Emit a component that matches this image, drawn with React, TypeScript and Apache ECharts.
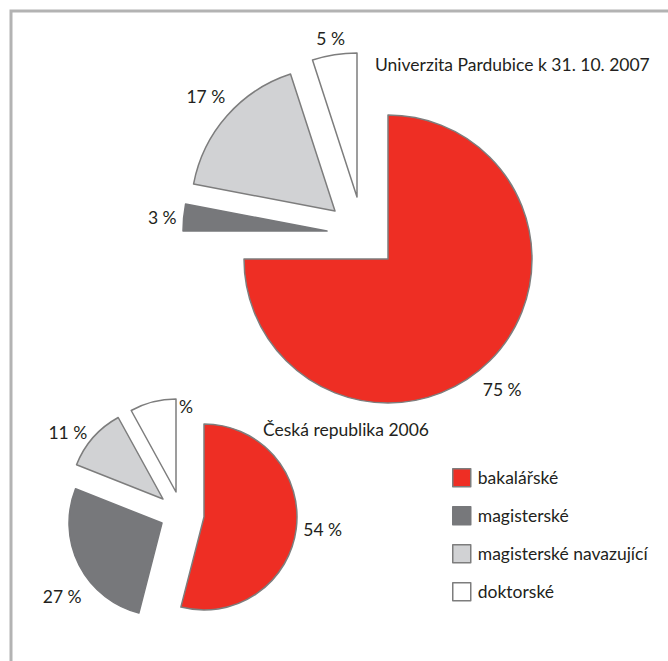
import React, { useEffect, useRef } from 'react';
import * as echarts from 'echarts';

// ---- data ----
const categories = ['bakalářské', 'magisterské', 'magisterské navazující', 'doktorské'];
const universityValues = [75, 3, 17, 5];
const universityLabels = ['75 %', '3 %', '17 %', '5 %'];
const czechValues = [54, 27, 11, 8];
const czechLabels = ['54 %', '27 %', '11 %', '%'];
const universityTitle = 'Univerzita Pardubice k 31. 10. 2007';
const czechTitle = 'Česká republika 2006';

// ---- styles / layout ----
const fillColors = ['#ee2e24', '#77787b', '#d1d2d4', '#ffffff'];
const borderColors = ['#7d7d7d', '#77787b', '#7d7d7d', '#7d7d7d'];
const textColor = '#231f20';
const fontFamily = 'Lato, "Open Sans", sans-serif';
const fontSize = 17.5;

type PieCfg = {
  r: number;
  centers: number[][];
  labelLen: number[];
  labelLen2: number[];
};

const topPie: PieCfg = {
  r: 144,
  centers: [[388, 259], [327, 231], [335, 211], [357, 197]],
  labelLen: [41, 0, 29, 16],
  labelLen2: [-41, 2, -25, -18],
};

const bottomPie: PieCfg = {
  r: 93,
  centers: [[204, 517], [162, 523], [163, 499], [176, 492]],
  labelLen: [3, 69, 8, -5],
  labelLen2: [-1, -69, -5, -44],
};

function sliceSeries(values: number[], labels: string[], cfg: PieCfg, k: number, id: string) {
  return {
    type: 'pie',
    id,
    center: cfg.centers[k],
    radius: cfg.r,
    startAngle: 90,
    clockwise: true,
    avoidLabelOverlap: false,
    silent: true,
    emphasis: { disabled: true },
    label: {
      show: true,
      position: 'outside',
      formatter: (p: any) => labels[p.dataIndex],
      color: textColor,
      fontFamily,
      fontSize,
    },
    labelLine: { show: false, length: cfg.labelLen[k], length2: cfg.labelLen2[k] },
    data: values.map((v, i) => ({
      name: categories[i],
      value: v,
      itemStyle:
        i === k
          ? { color: fillColors[i], borderColor: borderColors[i], borderWidth: 1.5 }
          : { color: 'rgba(0,0,0,0)', borderWidth: 0 },
      label: { show: i === k },
    })),
  };
}

export default function App() {
  const ref = useRef<HTMLDivElement>(null);
  useEffect(() => {
    if (!ref.current) return;
    const chart = echarts.init(ref.current, undefined, { renderer: 'svg' });
    const series: any[] = [];
    for (let k = 0; k < categories.length; k++) {
      series.push(sliceSeries(universityValues, universityLabels, topPie, k, 'top' + k));
    }
    for (let k = 0; k < categories.length; k++) {
      series.push(sliceSeries(czechValues, czechLabels, bottomPie, k, 'bottom' + k));
    }
    const titleStyle = { fontSize, fontWeight: 'normal', color: textColor, fontFamily, lineHeight: fontSize };
    chart.setOption({
      animation: false,
      backgroundColor: '#ffffff',
      title: [
        { text: universityTitle, left: 375, top: 56, padding: 0, textStyle: titleStyle },
        { text: czechTitle, left: 263, top: 421, padding: 0, textStyle: titleStyle },
      ],
      legend: {
        orient: 'vertical',
        left: 452,
        top: 468,
        padding: 0,
        itemWidth: 18,
        itemHeight: 18,
        itemGap: 18.5,
        icon: 'rect',
        selectedMode: false,
        textStyle: { fontSize, color: textColor, fontFamily, padding: [0, 0, 0, 2] },
        data: categories.map((c, i) => ({
          name: c,
          itemStyle: { color: fillColors[i], borderColor: borderColors[i], borderWidth: 1.5 },
        })),
      },
      graphic: [
        {
          type: 'polyline',
          silent: true,
          shape: { points: [[11, 661], [11, 11], [668, 11]] },
          style: { stroke: '#b3b3b3', lineWidth: 3, fill: 'none' },
        },
      ],
      series,
    });
    return () => chart.dispose();
  }, []);
  return (
    <div
      ref={ref}
      style={{ position: 'absolute', left: 0, top: 0, width: 668, height: 661 }}
    />
  );
}
